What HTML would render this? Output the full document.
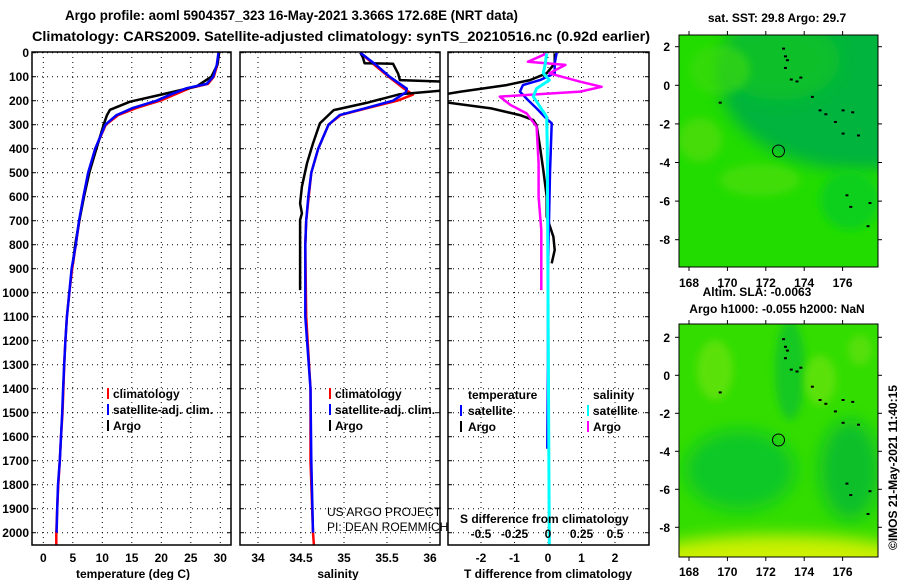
<!DOCTYPE html>
<html><head><meta charset="utf-8"><style>
html,body{margin:0;padding:0;background:#fff;}
svg{display:block;font-family:"Liberation Sans",Arial,sans-serif;}
.b{font-weight:bold;font-size:12px;fill:#000;}
.t{font-weight:bold;font-size:13.5px;fill:#000;}
</style></head><body>
<svg id="fig" width="900" height="580" viewBox="0 0 900 580" xmlns="http://www.w3.org/2000/svg">
<defs>
<clipPath id="c1"><rect x="32" y="52" width="199" height="493"/></clipPath>
<clipPath id="c2"><rect x="240" y="52" width="200" height="493"/></clipPath>
<clipPath id="c3"><rect x="448" y="52" width="201" height="493"/></clipPath>
<clipPath id="m1"><rect x="679" y="35" width="199" height="232"/></clipPath>
<clipPath id="m2"><rect x="679" y="324" width="199" height="233"/></clipPath>
<filter id="bl" x="-50%" y="-50%" width="200%" height="200%"><feGaussianBlur stdDeviation="8"/></filter>
<filter id="bl2" x="-50%" y="-50%" width="200%" height="200%"><feGaussianBlur stdDeviation="4"/></filter>
</defs>
<text class="t" x="65" y="20" textLength="453" lengthAdjust="spacingAndGlyphs">Argo profile: aoml 5904357_323 16-May-2021 3.366S 172.68E (NRT data)</text>
<text class="t" x="32" y="41" textLength="618" lengthAdjust="spacingAndGlyphs">Climatology: CARS2009. Satellite-adjusted climatology: synTS_20210516.nc (0.92d earlier)</text>

<g id="grids"></g>
<g id="series"></g>
<g id="frames"></g>
<g id="labels"></g>

<g>
<rect x="107" y="388" width="2" height="11" fill="#f00"/><text class="b" x="113" y="398">climatology</text>
<rect x="107" y="404" width="2" height="11" fill="#00f"/><text class="b" x="113" y="414">satellite-adj. clim.</text>
<rect x="107" y="420" width="2" height="11" fill="#000"/><text class="b" x="113" y="430">Argo</text>
</g>
<g>
<rect x="329" y="388" width="2" height="11" fill="#f00"/><text class="b" x="335" y="398">climatology</text>
<rect x="329" y="404" width="2" height="11" fill="#00f"/><text class="b" x="335" y="414">satellite-adj. clim.</text>
<rect x="329" y="420" width="2" height="11" fill="#000"/><text class="b" x="335" y="430">Argo</text>
</g>
<g>
<text class="b" x="468" y="399">temperature</text>
<text class="b" x="593" y="399">salinity</text>
<rect x="460" y="405" width="2" height="11" fill="#00f"/><text class="b" x="468" y="415">satellite</text>
<rect x="460" y="421" width="2" height="11" fill="#000"/><text class="b" x="468" y="431">Argo</text>
<rect x="587" y="405" width="2" height="11" fill="#0ff"/><text class="b" x="593" y="415">satellite</text>
<rect x="587" y="421" width="2" height="11" fill="#f0f"/><text class="b" x="593" y="431">Argo</text>
</g>
<text x="327" y="516" font-size="12">US ARGO PROJECT</text>
<text x="327" y="531" font-size="12">PI: DEAN ROEMMICH</text>
<text class="b" x="460" y="523">S difference from climatology</text>

<g>
<g clip-path="url(#m1)">
<rect x="679" y="35" width="199" height="232" fill="#22dc00"/>
<ellipse cx="860" cy="80" rx="140" ry="90" fill="#00b43c" filter="url(#bl)"/>
<ellipse cx="780" cy="60" rx="60" ry="40" fill="#0ac02a" filter="url(#bl)"/>
<ellipse cx="700" cy="140" rx="22" ry="22" fill="#55dc10" opacity="0.7" filter="url(#bl2)"/>
<ellipse cx="760" cy="180" rx="40" ry="16" fill="#50de0a" opacity="0.7" filter="url(#bl2)"/>
<ellipse cx="720" cy="70" rx="30" ry="25" fill="#40da10" opacity="0.6" filter="url(#bl2)"/>
<ellipse cx="850" cy="200" rx="30" ry="30" fill="#10d01a" filter="url(#bl2)"/>
</g>
<g id="isl1"></g>
<circle cx="778.5" cy="151" r="6" fill="none" stroke="#000" stroke-width="1"/>
<rect x="679" y="35" width="199" height="232" fill="none" stroke="#000" stroke-width="1"/>
</g>
<g>
<g clip-path="url(#m2)">
<rect x="679" y="324" width="199" height="233" fill="#33dd00"/>
<ellipse cx="740" cy="470" rx="55" ry="40" fill="#10c828" filter="url(#bl)"/>
<ellipse cx="850" cy="470" rx="30" ry="50" fill="#10c02c" filter="url(#bl)"/>
<ellipse cx="790" cy="370" rx="15" ry="50" fill="#18c820" filter="url(#bl2)"/>
<ellipse cx="715" cy="370" rx="18" ry="30" fill="#66e20a" opacity="0.8" filter="url(#bl2)"/>
<ellipse cx="820" cy="380" rx="16" ry="25" fill="#66e20a" opacity="0.8" filter="url(#bl2)"/>
<ellipse cx="860" cy="350" rx="12" ry="15" fill="#5ee00a" opacity="0.8" filter="url(#bl2)"/>
<ellipse cx="778" cy="560" rx="140" ry="25" fill="#ccf000" filter="url(#bl)"/>
</g>
<g id="isl2"></g>
<circle cx="778.5" cy="440" r="6" fill="none" stroke="#000" stroke-width="1"/>
<rect x="679" y="324" width="199" height="233" fill="none" stroke="#000" stroke-width="1"/>
</g>
<text class="b" x="777" y="22" text-anchor="middle">sat. SST: 29.8 Argo: 29.7</text>
<text class="b" x="757" y="296" text-anchor="middle">Altim. SLA: -0.0063</text>
<text class="b" x="777" y="313" text-anchor="middle">Argo h1000: -0.055 h2000: NaN</text>
<text class="b" x="0" y="0" transform="translate(897,550) rotate(-90)">©IMOS 21-May-2021 11:40:15</text>
<g id="maplab"></g>
</svg>
<script>
const depthTicks = [0,100,200,300,400,500,600,700,800,900,1000,1100,1200,1300,1400,1500,1600,1700,1800,1900,2000];
const tempTicks = [0,5,10,15,20,25,30];
const salTicks = [34,34.5,35,35.5,36];
const salTickLabels = ["34","34.5","35","35.5","36"];
const dtTicks = [-2,-1,0,1,2];
const dsTicks = [-0.5,-0.25,0,0.25,0.5];
const dsTickLabels = ["-0.5","-0.25","0","0.25","0.5"];

const tempSatDepth = [0,50,100,130,148,175,200,230,260,300,400,500,600,700,800,900,1000,1100,1200,1300,1400,1500,1600,1700,1800,1900,2000];
const tempSat = [29.7,29.4,28.8,27.7,24.3,21.5,19.2,15.2,12.4,10.5,8.8,7.6,6.8,6.05,5.5,4.8,4.4,4.0,3.75,3.55,3.35,3.2,3.0,2.8,2.5,2.35,2.25];
const tempClimDepth = [0,50,100,130,148,175,200,230,260,300,400,500,600,700,800,900,1000,1100,1200,1300,1400,1500,1600,1700,1800,1900,2000,2050];
const tempClim = [29.8,29.5,28.9,27.9,24.8,22.2,19.8,15.8,12.7,10.6,8.8,7.7,6.8,6.1,5.5,4.9,4.4,4.0,3.75,3.55,3.4,3.25,3.0,2.8,2.55,2.35,2.2,2.2];
const tempArgoDepth = [0,50,100,140,176,204,238,260,294,400,500,600,700,800,880];
const tempArgo = [29.8,29.5,28.5,26,19.8,14.7,11.3,10.8,10.3,9.0,7.8,6.9,6.1,5.4,5.0];

const salSatDepth = [0,53,100,150,165,200,230,260,300,400,500,600,700,800,1100,1400,1700,2000];
const salSat = [35.19,35.38,35.53,35.73,35.72,35.57,35.26,34.95,34.82,34.70,34.62,34.585,34.56,34.55,34.55,34.61,34.62,34.64];
const salClimDepth = [0,53,100,150,175,200,230,260,300,400,500,600,700,800,1100,1400,1700,2000,2050];
const salClim = [35.19,35.36,35.52,35.70,35.80,35.62,35.28,34.96,34.82,34.70,34.62,34.59,34.56,34.55,34.56,34.61,34.61,34.64,34.65];
const salArgoDepth = [0,20,44,46,88,114,121,156,173,209,239,294,378,461,558,628,669,697,989];
const salArgo = [35.19,35.22,35.24,35.57,35.63,35.65,36.2,36.2,35.65,35.26,34.88,34.72,34.64,34.57,34.51,34.49,34.51,34.49,34.49];

const dtSatDepth = [0,44,86,114,135,162,197,232,274,294,500,900,1300,1650];
const dtSat = [0.26,0.2,0.2,-0.24,-0.75,-0.84,-0.6,-0.34,-0.05,0.11,0.06,0.0,0.0,-0.02];
const dtArgoDepth = [3,44,86,114,135,162,176,204,232,260,281,302,392,489,600,683,767,822,878];
const dtArgo = [0.2,0.2,-0.04,-0.54,-1.24,-2.6,-3.2,-3.2,-1.7,-0.84,-0.44,-0.34,-0.24,-0.14,-0.04,-0.04,0.16,0.2,0.11];
const dsSatDepth = [3,44,86,114,149,183,225,267,400,1000,2050];
const dsSat = [-0.01,-0.02,-0.035,0.01,-0.085,-0.11,-0.06,-0.01,-0.005,0.0,0.01];
const dsArgoDepth = [3,38,51,86,121,142,162,183,218,253,308,461,600,739,989];
const dsArgo = [-0.01,-0.15,0.13,0.01,0.24,0.40,0.24,-0.36,-0.28,-0.16,-0.085,-0.07,-0.07,-0.05,-0.05];

const lonTicks = [168,170,172,174,176];
const latTicks = [2,0,-2,-4,-6,-8];

const yD = d => 52.7 + 0.24*d;
const xT = t => 43.3 + 5.9*t;
const xS = s => 258 + 86*(s-34);
const xDT = t => 548 + 33.5*t;
const xDS = s => 548 + 134*s;
const mx = lon => 689 + 19.2*(lon-168);
const my1 = lat => 85.3 - 19.3*lat;
const my2 = lat => 375.3 - 19.0*lat;

const NS = "http://www.w3.org/2000/svg";
function mk(tag, attrs, parent){
  const e = document.createElementNS(NS, tag);
  for (const k in attrs) e.setAttribute(k, attrs[k]);
  parent.appendChild(e); return e;
}
const grids = document.getElementById('grids');
const series = document.getElementById('series');
const frames = document.getElementById('frames');
const labels = document.getElementById('labels');

const panels = [
  {x0:32,x1:231,clip:'c1',name:'temperature'},
  {x0:240,x1:440,clip:'c2',name:'salinity'},
  {x0:448,x1:649,clip:'c3',name:'difference'}
];
panels.forEach(p=>{
  depthTicks.forEach(d=>{
    const y = yD(d);
    const g = mk('line',{x1:p.x0,x2:p.x1,y1:y,y2:y,stroke:'#000','stroke-width':1,'stroke-dasharray':'1,4'},grids);
    
    
    mk('line',{x1:p.x0,x2:p.x0+4,y1:y,y2:y,stroke:'#000','stroke-width':1},grids);
    mk('line',{x1:p.x1-4,x2:p.x1,y1:y,y2:y,stroke:'#000','stroke-width':1},grids);
  });
});
function vgrid(vals, fx){
  vals.forEach(v=>{
    const x = fx(v);
    const g = mk('line',{x1:x,x2:x,y1:52,y2:545,stroke:'#000','stroke-width':1,'stroke-dasharray':'1,4'},grids);
    
    
  });
}
vgrid(tempTicks,xT); vgrid(salTicks,xS); vgrid(dtTicks,xDT);

panels.forEach(p=>{
  const r = mk('rect',{x:p.x0,y:52,width:p.x1-p.x0,height:493,fill:'none',stroke:'#000','stroke-width':1.5},frames);
  
  
});

function line(depths, vals, fx, color, w, clip, name){
  const pts = depths.map((d,i)=> fx(vals[i]).toFixed(1)+','+yD(d).toFixed(1)).join(' ');
  const pl = mk('polyline',{points:pts,fill:'none',stroke:color,'stroke-width':w,'stroke-linejoin':'round','clip-path':'url(#'+clip+')'},series);
  
  
}
line(tempClimDepth,tempClim,xT,'#f00',2.5,'c1','temp-climatology-line');
line(tempArgoDepth,tempArgo,xT,'#000',2.5,'c1','temp-argo-line');
line(tempSatDepth,tempSat,xT,'#00f',2.5,'c1','temp-satellite-line');
line(salClimDepth,salClim,xS,'#f00',2.5,'c2','sal-climatology-line');
line(salArgoDepth,salArgo,xS,'#000',2.5,'c2','sal-argo-line');
line(salSatDepth,salSat,xS,'#00f',2.5,'c2','sal-satellite-line');
line(dtArgoDepth,dtArgo,xDT,'#000',2.5,'c3','tdiff-argo-line');
line(dtSatDepth,dtSat,xDT,'#00f',2.5,'c3','tdiff-satellite-line');
line(dsArgoDepth,dsArgo,xDS,'#f0f',2.5,'c3','sdiff-argo-line');
line(dsSatDepth,dsSat,xDS,'#0ff',3,'c3','sdiff-satellite-line');

function txt(x,y,s,anchor,name){
  const t = mk('text',{x:x,y:y,'text-anchor':anchor,class:'b'},labels);
  t.textContent = s;
  
  
}
depthTicks.forEach(d=> txt(29, yD(d)+4.5, String(d), 'end', 'depth-tick-label'));
tempTicks.forEach(v=> txt(xT(v), 562, String(v), 'middle', 'temp-tick-label'));
salTicks.forEach((v,i)=> txt(xS(v), 562, salTickLabels[i], 'middle', 'sal-tick-label'));
dtTicks.forEach(v=> txt(xDT(v), 562, String(v), 'middle', 'tdiff-tick-label'));
dsTicks.forEach((v,i)=> txt(xDS(v), 538, dsTickLabels[i], 'middle', 'sdiff-tick-label'));
txt(133, 578, 'temperature (deg C)', 'middle', 'temp-axis-title');
txt(338, 578, 'salinity', 'middle', 'sal-axis-title');
txt(548, 578, 'T difference from climatology', 'middle', 'tdiff-axis-title');

const ml = document.getElementById('maplab');
function mapAxes(fy, y0, y1, lonY){
  lonTicks.forEach(l=>{
    const x = mx(l);
    mk('line',{x1:x,x2:x,y1:y0-4,y2:y0,stroke:'#000'},ml);
    mk('line',{x1:x,x2:x,y1:y1,y2:y1+4,stroke:'#000'},ml);
    const t = mk('text',{x:x,y:lonY,'text-anchor':'middle',class:'b'},ml);
    t.textContent = String(l);
    
    
  });
  latTicks.forEach(l=>{
    const y = fy(l);
    mk('line',{x1:675,x2:679,y1:y,y2:y,stroke:'#000'},ml);
    mk('line',{x1:878,x2:882,y1:y,y2:y,stroke:'#000'},ml);
    const t = mk('text',{x:670,y:y+4.5,'text-anchor':'end',class:'b'},ml);
    t.textContent = String(l);
    
    
  });
}
mapAxes(my1,35,267,287);
mapAxes(my2,324,557,576);

const islLon = [172.9,173.0,173.1,173.0,173.3,173.6,173.8,174.4,174.8,175.1,175.6,176.0,176.5,176.0,176.8,169.6,176.2,176.4,177.3,177.4];
const islLat = [1.9,1.5,1.3,0.9,0.3,0.2,0.4,-0.6,-1.3,-1.5,-1.9,-1.3,-1.4,-2.5,-2.6,-0.9,-5.7,-6.3,-7.3,-6.1];
[['isl1',my1],['isl2',my2]].forEach(([id,fy])=>{
  const g = document.getElementById(id);
  islLon.forEach((l,i)=>{
    const r = mk('rect',{x:mx(l)-1,y:fy(islLat[i])-1,width:3,height:2,fill:'#000'},g);
    
    
  });
});
</script>
</body></html>
